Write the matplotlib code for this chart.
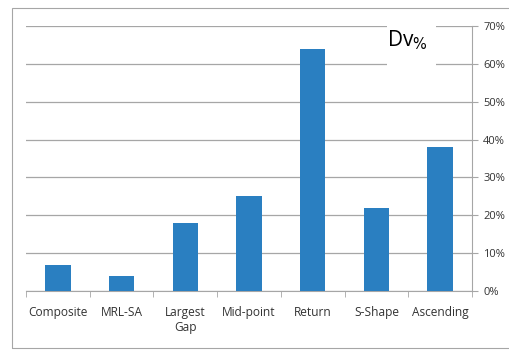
import matplotlib
matplotlib.use("Agg")
import matplotlib.pyplot as plt
from matplotlib.patches import Rectangle
from matplotlib.ticker import FuncFormatter

categories = ["Composite", "MRL-SA", "Largest\nGap", "Mid-point", "Return", "S-Shape", "Ascending"]
values = [7, 4, 18, 25, 64, 22, 38]
y_ticks = [0, 10, 20, 30, 40, 50, 60, 70]

plt.rcParams['font.family'] = ['Open Sans', 'DejaVu Sans']

fig = plt.figure(figsize=(5.09, 3.5), dpi=100)
W, H = 509, 350
# outer chart border
fig.patches.append(Rectangle((12 / W, (350 - 347.5) / H), 1.2, (347.5 - 8) / H, transform=fig.transFigure,
                             fill=False, edgecolor="#a6a6a6", linewidth=0.8))

ax = fig.add_axes([26 / W, (350 - 291) / H, (472 - 26) / W, (291 - 26) / H])
x = list(range(len(categories)))
ax.bar(x, values, width=0.4, color="#2a7fc1", zorder=3)
ax.set_xlim(-0.5, len(categories) - 0.5)
ax.set_ylim(0, 70)
ax.set_yticks(y_ticks)
ax.yaxis.set_major_formatter(FuncFormatter(lambda v, p: f"{int(v)}%"))
ax.yaxis.tick_right()
ax.grid(axis="y", color="#a6a6a6", linewidth=0.9, zorder=0)
for s in ["top", "left"]:
    ax.spines[s].set_visible(False)
ax.spines["right"].set_color("#a6a6a6")
ax.spines["bottom"].set_color("#a6a6a6")
ax.tick_params(axis="y", length=4, color="#a6a6a6", labelsize=8, pad=4, labelcolor="#333333")
ax.set_xticks(x)
ax.set_xticklabels(categories, fontsize=8.6, color="#333333", linespacing=1.2)
ax.tick_params(axis="x", length=0, pad=11)
ax.set_xticks([i - 0.5 for i in range(len(categories) + 1)], minor=True)
ax.tick_params(axis="x", which="minor", length=4, color="#a6a6a6")

ax.add_patch(Rectangle((0.809, 0.849), 0.11, 0.17, transform=ax.transAxes, facecolor="white",
                       edgecolor="none", zorder=4, clip_on=False))
ax.text(0.856, 0.947, r"Dv$_{\%}$", transform=ax.transAxes, fontsize=15, ha="center", va="center",
        color="black", zorder=5)

fig.savefig("out.png", dpi=100)
